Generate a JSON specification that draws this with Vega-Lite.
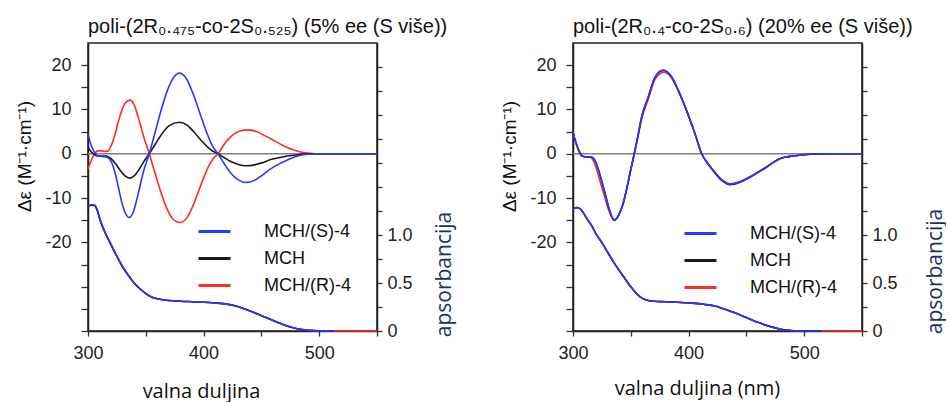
{
"$schema": "https://vega.github.io/schema/vega-lite/v6.json",
"padding": {"left": 14, "top": 16, "right": 0, "bottom": 0},
"spacing": 44,
"resolve": {"legend": {"color": "independent"}},
"config": {
  "view": {"stroke": "#222", "strokeWidth": 1.5},
  "axis": {"domainColor": "#222", "domainWidth": 1.5, "tickColor": "#333", "tickWidth": 1.3, "labelFont": "Liberation Sans", "labelFontSize": 18, "labelColor": "#222", "labelFlush": false, "labelOverlap": false, "grid": false, "titleFontWeight": "normal", "titleColor": "#111"}
},
"datasets": {
  "cdL": [
    {"s":"MCH/(R)-4","x":300,"y":-3.4},{"s":"MCH/(R)-4","x":302,"y":-2},{"s":"MCH/(R)-4","x":305,"y":-0.3},{"s":"MCH/(R)-4","x":308,"y":0.6},{"s":"MCH/(R)-4","x":311,"y":0.7},{"s":"MCH/(R)-4","x":314,"y":0.5},{"s":"MCH/(R)-4","x":317,"y":0.6},{"s":"MCH/(R)-4","x":320,"y":1.8},{"s":"MCH/(R)-4","x":323,"y":4},{"s":"MCH/(R)-4","x":326,"y":7},{"s":"MCH/(R)-4","x":329,"y":9.6},{"s":"MCH/(R)-4","x":332,"y":11.4},{"s":"MCH/(R)-4","x":336.4,"y":12.1},{"s":"MCH/(R)-4","x":340,"y":11},{"s":"MCH/(R)-4","x":344,"y":7.8},{"s":"MCH/(R)-4","x":348,"y":4},{"s":"MCH/(R)-4","x":353,"y":0},{"s":"MCH/(R)-4","x":358,"y":-4.4},{"s":"MCH/(R)-4","x":363,"y":-8.6},{"s":"MCH/(R)-4","x":368,"y":-12.2},{"s":"MCH/(R)-4","x":373,"y":-14.6},{"s":"MCH/(R)-4","x":379.7,"y":-15.5},{"s":"MCH/(R)-4","x":386,"y":-14.3},{"s":"MCH/(R)-4","x":392,"y":-11},{"s":"MCH/(R)-4","x":398,"y":-6.8},{"s":"MCH/(R)-4","x":404,"y":-3},{"s":"MCH/(R)-4","x":408.5,"y":-1},{"s":"MCH/(R)-4","x":412.5,"y":0},{"s":"MCH/(R)-4","x":418,"y":2.2},{"s":"MCH/(R)-4","x":424,"y":4},{"s":"MCH/(R)-4","x":431,"y":5.1},{"s":"MCH/(R)-4","x":438.5,"y":5.4},{"s":"MCH/(R)-4","x":446,"y":5},{"s":"MCH/(R)-4","x":452,"y":4.2},{"s":"MCH/(R)-4","x":458,"y":3.4},{"s":"MCH/(R)-4","x":467,"y":2.1},{"s":"MCH/(R)-4","x":476,"y":1},{"s":"MCH/(R)-4","x":483,"y":0.45},{"s":"MCH/(R)-4","x":490,"y":0.15},{"s":"MCH/(R)-4","x":497,"y":0},{"s":"MCH/(R)-4","x":550,"y":0},
    {"s":"MCH","x":300,"y":1.4},{"s":"MCH","x":302,"y":0.7},{"s":"MCH","x":305,"y":-0.1},{"s":"MCH","x":308,"y":-0.5},{"s":"MCH","x":312,"y":-0.5},{"s":"MCH","x":316,"y":-0.5},{"s":"MCH","x":320,"y":-1.1},{"s":"MCH","x":324,"y":-2.3},{"s":"MCH","x":328,"y":-3.8},{"s":"MCH","x":332,"y":-5},{"s":"MCH","x":336,"y":-5.5},{"s":"MCH","x":340,"y":-5},{"s":"MCH","x":344,"y":-3.6},{"s":"MCH","x":348,"y":-1.9},{"s":"MCH","x":353,"y":0},{"s":"MCH","x":358,"y":2.1},{"s":"MCH","x":364,"y":4.5},{"s":"MCH","x":370,"y":6.3},{"s":"MCH","x":379,"y":7.1},{"s":"MCH","x":386,"y":6.4},{"s":"MCH","x":392,"y":4.8},{"s":"MCH","x":398,"y":3},{"s":"MCH","x":404,"y":1.4},{"s":"MCH","x":408.5,"y":0.5},{"s":"MCH","x":412.5,"y":0},{"s":"MCH","x":418,"y":-0.9},{"s":"MCH","x":424,"y":-1.8},{"s":"MCH","x":430,"y":-2.4},{"s":"MCH","x":437,"y":-2.7},{"s":"MCH","x":444,"y":-2.5},{"s":"MCH","x":451,"y":-2},{"s":"MCH","x":458,"y":-1.3},{"s":"MCH","x":467,"y":-0.8},{"s":"MCH","x":476,"y":-0.4},{"s":"MCH","x":483,"y":-0.15},{"s":"MCH","x":490,"y":0},{"s":"MCH","x":550,"y":0},
    {"s":"MCH/(S)-4","x":300,"y":4.5},{"s":"MCH/(S)-4","x":302,"y":2.5},{"s":"MCH/(S)-4","x":305,"y":0.6},{"s":"MCH/(S)-4","x":308,"y":-0.4},{"s":"MCH/(S)-4","x":312,"y":-0.6},{"s":"MCH/(S)-4","x":316,"y":-0.7},{"s":"MCH/(S)-4","x":320,"y":-1.7},{"s":"MCH/(S)-4","x":323,"y":-3.9},{"s":"MCH/(S)-4","x":326,"y":-7.2},{"s":"MCH/(S)-4","x":329,"y":-10.7},{"s":"MCH/(S)-4","x":332,"y":-13.2},{"s":"MCH/(S)-4","x":335.5,"y":-14.4},{"s":"MCH/(S)-4","x":339,"y":-13.3},{"s":"MCH/(S)-4","x":343,"y":-9.5},{"s":"MCH/(S)-4","x":348,"y":-4},{"s":"MCH/(S)-4","x":353,"y":0},{"s":"MCH/(S)-4","x":358,"y":4.8},{"s":"MCH/(S)-4","x":363,"y":9.6},{"s":"MCH/(S)-4","x":368,"y":13.8},{"s":"MCH/(S)-4","x":373,"y":16.8},{"s":"MCH/(S)-4","x":379,"y":18.2},{"s":"MCH/(S)-4","x":385,"y":17},{"s":"MCH/(S)-4","x":391,"y":13.5},{"s":"MCH/(S)-4","x":397,"y":9},{"s":"MCH/(S)-4","x":403,"y":4.6},{"s":"MCH/(S)-4","x":408,"y":1.6},{"s":"MCH/(S)-4","x":412.5,"y":0},{"s":"MCH/(S)-4","x":418,"y":-2.3},{"s":"MCH/(S)-4","x":424,"y":-4.5},{"s":"MCH/(S)-4","x":430,"y":-5.9},{"s":"MCH/(S)-4","x":437,"y":-6.5},{"s":"MCH/(S)-4","x":444,"y":-6},{"s":"MCH/(S)-4","x":451,"y":-4.8},{"s":"MCH/(S)-4","x":458,"y":-3.4},{"s":"MCH/(S)-4","x":467,"y":-2.1},{"s":"MCH/(S)-4","x":476,"y":-1},{"s":"MCH/(S)-4","x":483,"y":-0.4},{"s":"MCH/(S)-4","x":490,"y":-0.1},{"s":"MCH/(S)-4","x":497,"y":0},{"s":"MCH/(S)-4","x":550,"y":0}
  ],
  "absL": [
    {"s":"MCH/(R)-4","x":300,"y":1.3},{"s":"MCH/(R)-4","x":303,"y":1.315},{"s":"MCH/(R)-4","x":306,"y":1.31},{"s":"MCH/(R)-4","x":308,"y":1.26},{"s":"MCH/(R)-4","x":311,"y":1.14},{"s":"MCH/(R)-4","x":314,"y":1.05},{"s":"MCH/(R)-4","x":320,"y":0.9},{"s":"MCH/(R)-4","x":325,"y":0.78},{"s":"MCH/(R)-4","x":330,"y":0.67},{"s":"MCH/(R)-4","x":335,"y":0.58},{"s":"MCH/(R)-4","x":340,"y":0.5},{"s":"MCH/(R)-4","x":345,"y":0.44},{"s":"MCH/(R)-4","x":350,"y":0.39},{"s":"MCH/(R)-4","x":355,"y":0.355},{"s":"MCH/(R)-4","x":360,"y":0.335},{"s":"MCH/(R)-4","x":370,"y":0.318},{"s":"MCH/(R)-4","x":380,"y":0.31},{"s":"MCH/(R)-4","x":390,"y":0.305},{"s":"MCH/(R)-4","x":400,"y":0.3},{"s":"MCH/(R)-4","x":410,"y":0.292},{"s":"MCH/(R)-4","x":420,"y":0.28},{"s":"MCH/(R)-4","x":427,"y":0.262},{"s":"MCH/(R)-4","x":435,"y":0.232},{"s":"MCH/(R)-4","x":442,"y":0.2},{"s":"MCH/(R)-4","x":450,"y":0.16},{"s":"MCH/(R)-4","x":458,"y":0.12},{"s":"MCH/(R)-4","x":466,"y":0.08},{"s":"MCH/(R)-4","x":473,"y":0.05},{"s":"MCH/(R)-4","x":480,"y":0.027},{"s":"MCH/(R)-4","x":487,"y":0.012},{"s":"MCH/(R)-4","x":495,"y":0.004},{"s":"MCH/(R)-4","x":505,"y":0.001},{"s":"MCH/(R)-4","x":513,"y":0},{"s":"MCH/(R)-4","x":530,"y":0},{"s":"MCH/(R)-4","x":550,"y":0},
    {"s":"MCH","x":300,"y":1.295},{"s":"MCH","x":303,"y":1.31},{"s":"MCH","x":306,"y":1.305},{"s":"MCH","x":308,"y":1.255},{"s":"MCH","x":311,"y":1.135},{"s":"MCH","x":314,"y":1.045},{"s":"MCH","x":320,"y":0.895},{"s":"MCH","x":325,"y":0.775},{"s":"MCH","x":330,"y":0.665},{"s":"MCH","x":335,"y":0.575},{"s":"MCH","x":340,"y":0.497},{"s":"MCH","x":345,"y":0.438},{"s":"MCH","x":350,"y":0.389},{"s":"MCH","x":355,"y":0.355},{"s":"MCH","x":360,"y":0.335},{"s":"MCH","x":370,"y":0.318},{"s":"MCH","x":380,"y":0.31},{"s":"MCH","x":390,"y":0.305},{"s":"MCH","x":400,"y":0.3},{"s":"MCH","x":410,"y":0.292},{"s":"MCH","x":420,"y":0.28},{"s":"MCH","x":427,"y":0.262},{"s":"MCH","x":435,"y":0.232},{"s":"MCH","x":442,"y":0.2},{"s":"MCH","x":450,"y":0.16},{"s":"MCH","x":458,"y":0.12},{"s":"MCH","x":466,"y":0.08},{"s":"MCH","x":473,"y":0.05},{"s":"MCH","x":480,"y":0.027},{"s":"MCH","x":487,"y":0.012},{"s":"MCH","x":495,"y":0.004},{"s":"MCH","x":505,"y":0.001},{"s":"MCH","x":513,"y":0},
    {"s":"MCH/(S)-4","x":300,"y":1.3},{"s":"MCH/(S)-4","x":303,"y":1.315},{"s":"MCH/(S)-4","x":306,"y":1.31},{"s":"MCH/(S)-4","x":308,"y":1.26},{"s":"MCH/(S)-4","x":311,"y":1.14},{"s":"MCH/(S)-4","x":314,"y":1.05},{"s":"MCH/(S)-4","x":320,"y":0.9},{"s":"MCH/(S)-4","x":325,"y":0.78},{"s":"MCH/(S)-4","x":330,"y":0.67},{"s":"MCH/(S)-4","x":335,"y":0.58},{"s":"MCH/(S)-4","x":340,"y":0.5},{"s":"MCH/(S)-4","x":345,"y":0.44},{"s":"MCH/(S)-4","x":350,"y":0.39},{"s":"MCH/(S)-4","x":355,"y":0.355},{"s":"MCH/(S)-4","x":360,"y":0.335},{"s":"MCH/(S)-4","x":370,"y":0.318},{"s":"MCH/(S)-4","x":380,"y":0.31},{"s":"MCH/(S)-4","x":390,"y":0.305},{"s":"MCH/(S)-4","x":400,"y":0.3},{"s":"MCH/(S)-4","x":410,"y":0.292},{"s":"MCH/(S)-4","x":420,"y":0.28},{"s":"MCH/(S)-4","x":427,"y":0.262},{"s":"MCH/(S)-4","x":435,"y":0.232},{"s":"MCH/(S)-4","x":442,"y":0.2},{"s":"MCH/(S)-4","x":450,"y":0.16},{"s":"MCH/(S)-4","x":458,"y":0.12},{"s":"MCH/(S)-4","x":466,"y":0.08},{"s":"MCH/(S)-4","x":473,"y":0.05},{"s":"MCH/(S)-4","x":480,"y":0.027},{"s":"MCH/(S)-4","x":487,"y":0.012},{"s":"MCH/(S)-4","x":495,"y":0.004},{"s":"MCH/(S)-4","x":505,"y":0.001},{"s":"MCH/(S)-4","x":513,"y":0}
  ],
  "cdR": [
    {"s":"MCH/(R)-4","x":300,"y":4.8},{"s":"MCH/(R)-4","x":302,"y":2.8},{"s":"MCH/(R)-4","x":305,"y":0.6},{"s":"MCH/(R)-4","x":307.5,"y":-0.5},{"s":"MCH/(R)-4","x":311,"y":-0.7},{"s":"MCH/(R)-4","x":315,"y":-0.8},{"s":"MCH/(R)-4","x":318,"y":-1.8},{"s":"MCH/(R)-4","x":321,"y":-4},{"s":"MCH/(R)-4","x":324,"y":-6.8},{"s":"MCH/(R)-4","x":327.7,"y":-10},{"s":"MCH/(R)-4","x":331,"y":-12.8},{"s":"MCH/(R)-4","x":335.5,"y":-15},{"s":"MCH/(R)-4","x":340,"y":-13.6},{"s":"MCH/(R)-4","x":343.5,"y":-11.1},{"s":"MCH/(R)-4","x":346.5,"y":-7.9},{"s":"MCH/(R)-4","x":349.3,"y":-4.4},{"s":"MCH/(R)-4","x":353,"y":0},{"s":"MCH/(R)-4","x":356,"y":3.6},{"s":"MCH/(R)-4","x":359.4,"y":7.9},{"s":"MCH/(R)-4","x":365.1,"y":12.3},{"s":"MCH/(R)-4","x":371,"y":16.8},{"s":"MCH/(R)-4","x":378.5,"y":18.4},{"s":"MCH/(R)-4","x":385,"y":17.2},{"s":"MCH/(R)-4","x":391.1,"y":14.2},{"s":"MCH/(R)-4","x":395.5,"y":11.5},{"s":"MCH/(R)-4","x":399.8,"y":8.6},{"s":"MCH/(R)-4","x":405.5,"y":4.5},{"s":"MCH/(R)-4","x":411.3,"y":0},{"s":"MCH/(R)-4","x":415.5,"y":-1.8},{"s":"MCH/(R)-4","x":420,"y":-3.3},{"s":"MCH/(R)-4","x":428.6,"y":-5.8},{"s":"MCH/(R)-4","x":436,"y":-6.8},{"s":"MCH/(R)-4","x":444,"y":-6.3},{"s":"MCH/(R)-4","x":453,"y":-5.2},{"s":"MCH/(R)-4","x":460,"y":-4.1},{"s":"MCH/(R)-4","x":467,"y":-3},{"s":"MCH/(R)-4","x":473,"y":-2},{"s":"MCH/(R)-4","x":479,"y":-1.1},{"s":"MCH/(R)-4","x":485,"y":-0.7},{"s":"MCH/(R)-4","x":490,"y":-0.5},{"s":"MCH/(R)-4","x":502,"y":-0.15},{"s":"MCH/(R)-4","x":515,"y":0},{"s":"MCH/(R)-4","x":550,"y":0},
    {"s":"MCH","x":300,"y":4.9},{"s":"MCH","x":302,"y":3},{"s":"MCH","x":305,"y":0.8},{"s":"MCH","x":307.5,"y":-0.45},{"s":"MCH","x":311,"y":-0.7},{"s":"MCH","x":316,"y":-0.75},{"s":"MCH","x":319,"y":-1.5},{"s":"MCH","x":322,"y":-3.6},{"s":"MCH","x":325,"y":-6.3},{"s":"MCH","x":327.7,"y":-8.9},{"s":"MCH","x":331,"y":-12.2},{"s":"MCH","x":335.7,"y":-15},{"s":"MCH","x":340,"y":-13.6},{"s":"MCH","x":343.5,"y":-11.1},{"s":"MCH","x":346.5,"y":-7.9},{"s":"MCH","x":349.3,"y":-4.4},{"s":"MCH","x":353,"y":0},{"s":"MCH","x":356,"y":3.8},{"s":"MCH","x":359.4,"y":8.3},{"s":"MCH","x":365.1,"y":12.8},{"s":"MCH","x":371,"y":17.3},{"s":"MCH","x":378,"y":18.8},{"s":"MCH","x":385,"y":17.5},{"s":"MCH","x":391.1,"y":14.3},{"s":"MCH","x":395.5,"y":11.6},{"s":"MCH","x":399.8,"y":8.7},{"s":"MCH","x":405.5,"y":4.6},{"s":"MCH","x":411.3,"y":0},{"s":"MCH","x":415.5,"y":-1.8},{"s":"MCH","x":420,"y":-3.4},{"s":"MCH","x":428.6,"y":-6},{"s":"MCH","x":436,"y":-7},{"s":"MCH","x":444,"y":-6.5},{"s":"MCH","x":453,"y":-5.3},{"s":"MCH","x":460,"y":-4.2},{"s":"MCH","x":467,"y":-3.1},{"s":"MCH","x":473,"y":-2},{"s":"MCH","x":479,"y":-1.1},{"s":"MCH","x":485,"y":-0.7},{"s":"MCH","x":490,"y":-0.5},{"s":"MCH","x":502,"y":-0.15},{"s":"MCH","x":515,"y":0},{"s":"MCH","x":550,"y":0},
    {"s":"MCH/(S)-4","x":300,"y":4.9},{"s":"MCH/(S)-4","x":302,"y":3},{"s":"MCH/(S)-4","x":305,"y":0.8},{"s":"MCH/(S)-4","x":307.5,"y":-0.45},{"s":"MCH/(S)-4","x":311,"y":-0.7},{"s":"MCH/(S)-4","x":316,"y":-0.75},{"s":"MCH/(S)-4","x":319,"y":-1.5},{"s":"MCH/(S)-4","x":322,"y":-3.6},{"s":"MCH/(S)-4","x":325,"y":-6.3},{"s":"MCH/(S)-4","x":327.7,"y":-8.9},{"s":"MCH/(S)-4","x":331,"y":-12.2},{"s":"MCH/(S)-4","x":335.7,"y":-14.9},{"s":"MCH/(S)-4","x":340,"y":-13.6},{"s":"MCH/(S)-4","x":343.5,"y":-11.1},{"s":"MCH/(S)-4","x":346.5,"y":-7.9},{"s":"MCH/(S)-4","x":349.3,"y":-4.4},{"s":"MCH/(S)-4","x":353,"y":0},{"s":"MCH/(S)-4","x":356,"y":3.8},{"s":"MCH/(S)-4","x":359.4,"y":8.3},{"s":"MCH/(S)-4","x":365.1,"y":12.8},{"s":"MCH/(S)-4","x":371,"y":17.3},{"s":"MCH/(S)-4","x":378,"y":18.9},{"s":"MCH/(S)-4","x":385,"y":17.5},{"s":"MCH/(S)-4","x":391.1,"y":14.3},{"s":"MCH/(S)-4","x":395.5,"y":11.6},{"s":"MCH/(S)-4","x":399.8,"y":8.7},{"s":"MCH/(S)-4","x":405.5,"y":4.6},{"s":"MCH/(S)-4","x":411.3,"y":0},{"s":"MCH/(S)-4","x":415.5,"y":-1.8},{"s":"MCH/(S)-4","x":420,"y":-3.3},{"s":"MCH/(S)-4","x":428.6,"y":-5.9},{"s":"MCH/(S)-4","x":436,"y":-6.9},{"s":"MCH/(S)-4","x":444,"y":-6.4},{"s":"MCH/(S)-4","x":453,"y":-5.3},{"s":"MCH/(S)-4","x":460,"y":-4.2},{"s":"MCH/(S)-4","x":467,"y":-3.1},{"s":"MCH/(S)-4","x":473,"y":-2},{"s":"MCH/(S)-4","x":479,"y":-1.1},{"s":"MCH/(S)-4","x":485,"y":-0.7},{"s":"MCH/(S)-4","x":490,"y":-0.5},{"s":"MCH/(S)-4","x":502,"y":-0.15},{"s":"MCH/(S)-4","x":515,"y":0},{"s":"MCH/(S)-4","x":550,"y":0}
  ],
  "absR": [
    {"s":"MCH/(R)-4","x":300,"y":1.27},{"s":"MCH/(R)-4","x":303,"y":1.285},{"s":"MCH/(R)-4","x":306,"y":1.275},{"s":"MCH/(R)-4","x":309,"y":1.23},{"s":"MCH/(R)-4","x":312,"y":1.17},{"s":"MCH/(R)-4","x":316,"y":1.1},{"s":"MCH/(R)-4","x":320,"y":1.01},{"s":"MCH/(R)-4","x":325,"y":0.92},{"s":"MCH/(R)-4","x":330,"y":0.82},{"s":"MCH/(R)-4","x":335,"y":0.72},{"s":"MCH/(R)-4","x":340,"y":0.63},{"s":"MCH/(R)-4","x":345,"y":0.545},{"s":"MCH/(R)-4","x":350,"y":0.46},{"s":"MCH/(R)-4","x":355,"y":0.39},{"s":"MCH/(R)-4","x":360,"y":0.34},{"s":"MCH/(R)-4","x":365,"y":0.318},{"s":"MCH/(R)-4","x":370,"y":0.31},{"s":"MCH/(R)-4","x":380,"y":0.305},{"s":"MCH/(R)-4","x":390,"y":0.3},{"s":"MCH/(R)-4","x":403,"y":0.29},{"s":"MCH/(R)-4","x":413,"y":0.278},{"s":"MCH/(R)-4","x":423,"y":0.26},{"s":"MCH/(R)-4","x":431,"y":0.228},{"s":"MCH/(R)-4","x":440,"y":0.19},{"s":"MCH/(R)-4","x":450,"y":0.14},{"s":"MCH/(R)-4","x":460,"y":0.09},{"s":"MCH/(R)-4","x":467,"y":0.06},{"s":"MCH/(R)-4","x":474,"y":0.035},{"s":"MCH/(R)-4","x":481,"y":0.015},{"s":"MCH/(R)-4","x":488,"y":0.006},{"s":"MCH/(R)-4","x":495,"y":0.002},{"s":"MCH/(R)-4","x":505,"y":0},{"s":"MCH/(R)-4","x":515,"y":0},{"s":"MCH/(R)-4","x":530,"y":0},{"s":"MCH/(R)-4","x":550,"y":0},
    {"s":"MCH","x":300,"y":1.27},{"s":"MCH","x":303,"y":1.285},{"s":"MCH","x":306,"y":1.275},{"s":"MCH","x":309,"y":1.23},{"s":"MCH","x":312,"y":1.17},{"s":"MCH","x":316,"y":1.1},{"s":"MCH","x":320,"y":1.01},{"s":"MCH","x":325,"y":0.92},{"s":"MCH","x":330,"y":0.82},{"s":"MCH","x":335,"y":0.72},{"s":"MCH","x":340,"y":0.63},{"s":"MCH","x":345,"y":0.545},{"s":"MCH","x":350,"y":0.46},{"s":"MCH","x":355,"y":0.39},{"s":"MCH","x":360,"y":0.34},{"s":"MCH","x":365,"y":0.318},{"s":"MCH","x":370,"y":0.31},{"s":"MCH","x":380,"y":0.305},{"s":"MCH","x":390,"y":0.3},{"s":"MCH","x":403,"y":0.29},{"s":"MCH","x":413,"y":0.278},{"s":"MCH","x":423,"y":0.26},{"s":"MCH","x":431,"y":0.228},{"s":"MCH","x":440,"y":0.19},{"s":"MCH","x":450,"y":0.14},{"s":"MCH","x":460,"y":0.09},{"s":"MCH","x":467,"y":0.06},{"s":"MCH","x":474,"y":0.035},{"s":"MCH","x":481,"y":0.015},{"s":"MCH","x":488,"y":0.006},{"s":"MCH","x":495,"y":0.002},{"s":"MCH","x":505,"y":0},{"s":"MCH","x":515,"y":0},
    {"s":"MCH/(S)-4","x":300,"y":1.27},{"s":"MCH/(S)-4","x":303,"y":1.285},{"s":"MCH/(S)-4","x":306,"y":1.275},{"s":"MCH/(S)-4","x":309,"y":1.23},{"s":"MCH/(S)-4","x":312,"y":1.17},{"s":"MCH/(S)-4","x":316,"y":1.1},{"s":"MCH/(S)-4","x":320,"y":1.01},{"s":"MCH/(S)-4","x":325,"y":0.92},{"s":"MCH/(S)-4","x":330,"y":0.82},{"s":"MCH/(S)-4","x":335,"y":0.72},{"s":"MCH/(S)-4","x":340,"y":0.63},{"s":"MCH/(S)-4","x":345,"y":0.545},{"s":"MCH/(S)-4","x":350,"y":0.46},{"s":"MCH/(S)-4","x":355,"y":0.39},{"s":"MCH/(S)-4","x":360,"y":0.34},{"s":"MCH/(S)-4","x":365,"y":0.318},{"s":"MCH/(S)-4","x":370,"y":0.31},{"s":"MCH/(S)-4","x":380,"y":0.305},{"s":"MCH/(S)-4","x":390,"y":0.3},{"s":"MCH/(S)-4","x":403,"y":0.29},{"s":"MCH/(S)-4","x":413,"y":0.278},{"s":"MCH/(S)-4","x":423,"y":0.26},{"s":"MCH/(S)-4","x":431,"y":0.228},{"s":"MCH/(S)-4","x":440,"y":0.19},{"s":"MCH/(S)-4","x":450,"y":0.14},{"s":"MCH/(S)-4","x":460,"y":0.09},{"s":"MCH/(S)-4","x":467,"y":0.06},{"s":"MCH/(S)-4","x":474,"y":0.035},{"s":"MCH/(S)-4","x":481,"y":0.015},{"s":"MCH/(S)-4","x":488,"y":0.006},{"s":"MCH/(S)-4","x":495,"y":0.002},{"s":"MCH/(S)-4","x":505,"y":0},{"s":"MCH/(S)-4","x":515,"y":0}
  ]
},
"hconcat": [
  {
    "width": 289, "height": 288,
    "title": {"text": "poli-(2R₀.₄₇₅-co-2S₀.₅₂₅) (5% ee (S više))", "anchor": "start", "frame": "group", "font": "Liberation Sans", "fontSize": 20, "fontWeight": "normal", "color": "#111", "offset": 6},
    "layer": [
      {"layer": [
        {"data": {"values": [{"y": 0}]}, "mark": {"type": "rule", "color": "#808080", "strokeWidth": 1.5},
         "encoding": {"y": {"field": "y", "type": "quantitative", "scale": {"domain": [-40, 25], "nice": false, "zero": false}, "axis": null}}},
        {"data": {"name": "cdL"}, "mark": {"type": "line", "strokeWidth": 1.6, "interpolate": "monotone"},
         "encoding": {
           "x": {"field": "x", "type": "quantitative", "scale": {"domain": [300, 550], "nice": false, "zero": false},
             "axis": {"values": [300,350,400,450,500,550], "labelExpr": "datum.value % 100 == 0 ? toString(datum.value) : ''", "tickSize": 5, "labelPadding": 8, "title": "valna duljina", "titleFont": "Open Sans", "titleFontSize": 20, "titleX": 113, "titleY": 60, "titleAlign": "center", "titleBaseline": "middle"}},
           "y": {"field": "y", "type": "quantitative", "scale": {"domain": [-40, 25], "nice": false, "zero": false},
             "axis": {"values": [-40,-35,-30,-25,-20,-15,-10,-5,0,5,10,15,20], "labelExpr": "abs(datum.value) <= 20 && datum.value % 10 == 0 ? toString(datum.value) : ''", "tickSize": 7, "labelPadding": 10, "title": "Δε (M⁻¹·cm⁻¹)", "titleFont": "Liberation Sans", "titleFontSize": 19, "titleAngle": 270, "titleX": -64, "titleY": 113, "titleAlign": "center", "titleBaseline": "middle"}},
           "color": {"field": "s", "type": "nominal", "scale": {"domain": ["MCH/(S)-4", "MCH", "MCH/(R)-4"], "range": ["#2a37ff", "#1a1a1a", "#ff2b2b"]},
             "legend": {"orient": "none", "legendX": 109, "legendY": 171, "title": null, "symbolType": "stroke", "symbolSize": 1024, "symbolStrokeWidth": 3, "labelOffset": 32, "labelFont": "Liberation Sans", "labelFontSize": 18, "labelColor": "#111", "rowPadding": -3.5, "padding": 0}}
         }}
      ], "resolve": {"axis": {"y": "independent"}}},
      {"data": {"name": "absL"}, "mark": {"type": "line", "strokeWidth": 1.6, "interpolate": "monotone"},
       "encoding": {
         "x": {"field": "x", "type": "quantitative", "scale": {"domain": [300, 550], "nice": false, "zero": false}},
         "y": {"field": "y", "type": "quantitative", "scale": {"domain": [0, 3], "nice": false},
           "axis": {"orient": "right", "values": [0,0.25,0.5,0.75,1,1.25,1.5,1.75,2,2.25,2.5,2.75], "labelExpr": "datum.value == 0 ? '0' : datum.value == 0.5 ? '0.5' : datum.value == 1 ? '1.0' : ''", "tickSize": 5, "labelPadding": 5, "title": "apsorbancija", "titleFont": "Open Sans", "titleFontSize": 21, "titleColor": "#1f3060", "titleAngle": 270, "titleX": 67, "titleY": 231, "titleAlign": "center", "titleBaseline": "middle"}},
         "color": {"field": "s", "type": "nominal", "scale": {"domain": ["MCH/(S)-4", "MCH", "MCH/(R)-4"], "range": ["#2a37ff", "#1a1a1a", "#ff2b2b"]},
           "legend": {"orient": "none", "legendX": 109, "legendY": 171, "title": null, "symbolType": "stroke", "symbolSize": 1024, "symbolStrokeWidth": 3, "labelOffset": 32, "labelFont": "Liberation Sans", "labelFontSize": 18, "labelColor": "#111", "rowPadding": -3.5, "padding": 0}}
       }}
    ],
    "resolve": {"scale": {"y": "independent"}}
  },
  {
    "width": 289, "height": 288,
    "title": {"text": "poli-(2R₀.₄-co-2S₀.₆) (20% ee (S više))", "anchor": "start", "frame": "group", "font": "Liberation Sans", "fontSize": 20, "fontWeight": "normal", "color": "#111", "offset": 6},
    "layer": [
      {"layer": [
        {"data": {"values": [{"y": 0}]}, "mark": {"type": "rule", "color": "#808080", "strokeWidth": 1.5},
         "encoding": {"y": {"field": "y", "type": "quantitative", "scale": {"domain": [-40, 25], "nice": false, "zero": false}, "axis": null}}},
        {"data": {"name": "cdR"}, "mark": {"type": "line", "strokeWidth": 1.6, "interpolate": "monotone"},
         "encoding": {
           "x": {"field": "x", "type": "quantitative", "scale": {"domain": [300, 550], "nice": false, "zero": false},
             "axis": {"values": [300,350,400,450,500,550], "labelExpr": "datum.value % 100 == 0 ? toString(datum.value) : ''", "tickSize": 5, "labelPadding": 8, "title": "valna duljina (nm)", "titleFont": "Open Sans", "titleFontSize": 20, "titleX": 124, "titleY": 57, "titleAlign": "center", "titleBaseline": "middle"}},
           "y": {"field": "y", "type": "quantitative", "scale": {"domain": [-40, 25], "nice": false, "zero": false},
             "axis": {"values": [-40,-35,-30,-25,-20,-15,-10,-5,0,5,10,15,20], "labelExpr": "abs(datum.value) <= 20 && datum.value % 10 == 0 ? toString(datum.value) : ''", "tickSize": 7, "labelPadding": 10, "title": "Δε (M⁻¹·cm⁻¹)", "titleFont": "Liberation Sans", "titleFontSize": 19, "titleAngle": 270, "titleX": -64, "titleY": 113, "titleAlign": "center", "titleBaseline": "middle"}},
           "color": {"field": "s", "type": "nominal", "scale": {"domain": ["MCH/(S)-4", "MCH", "MCH/(R)-4"], "range": ["#2a37ff", "#1a1a1a", "#ff2b2b"]},
             "legend": {"orient": "none", "legendX": 110, "legendY": 173, "title": null, "symbolType": "stroke", "symbolSize": 1024, "symbolStrokeWidth": 3, "labelOffset": 32, "labelFont": "Liberation Sans", "labelFontSize": 18, "labelColor": "#111", "rowPadding": -3.5, "padding": 0}}
         }}
      ], "resolve": {"axis": {"y": "independent"}}},
      {"data": {"name": "absR"}, "mark": {"type": "line", "strokeWidth": 1.6, "interpolate": "monotone"},
       "encoding": {
         "x": {"field": "x", "type": "quantitative", "scale": {"domain": [300, 550], "nice": false, "zero": false}},
         "y": {"field": "y", "type": "quantitative", "scale": {"domain": [0, 3], "nice": false},
           "axis": {"orient": "right", "values": [0,0.25,0.5,0.75,1,1.25,1.5,1.75,2,2.25,2.5,2.75], "labelExpr": "datum.value == 0 ? '0' : datum.value == 0.5 ? '0.5' : datum.value == 1 ? '1.0' : ''", "tickSize": 5, "labelPadding": 5, "title": "apsorbancija", "titleFont": "Open Sans", "titleFontSize": 21, "titleColor": "#1f3060", "titleAngle": 270, "titleX": 73, "titleY": 228, "titleAlign": "center", "titleBaseline": "middle"}},
         "color": {"field": "s", "type": "nominal", "scale": {"domain": ["MCH/(S)-4", "MCH", "MCH/(R)-4"], "range": ["#2a37ff", "#1a1a1a", "#ff2b2b"]},
           "legend": {"orient": "none", "legendX": 110, "legendY": 173, "title": null, "symbolType": "stroke", "symbolSize": 1024, "symbolStrokeWidth": 3, "labelOffset": 32, "labelFont": "Liberation Sans", "labelFontSize": 18, "labelColor": "#111", "rowPadding": -3.5, "padding": 0}}
       }}
    ],
    "resolve": {"scale": {"y": "independent"}}
  }
]
}
